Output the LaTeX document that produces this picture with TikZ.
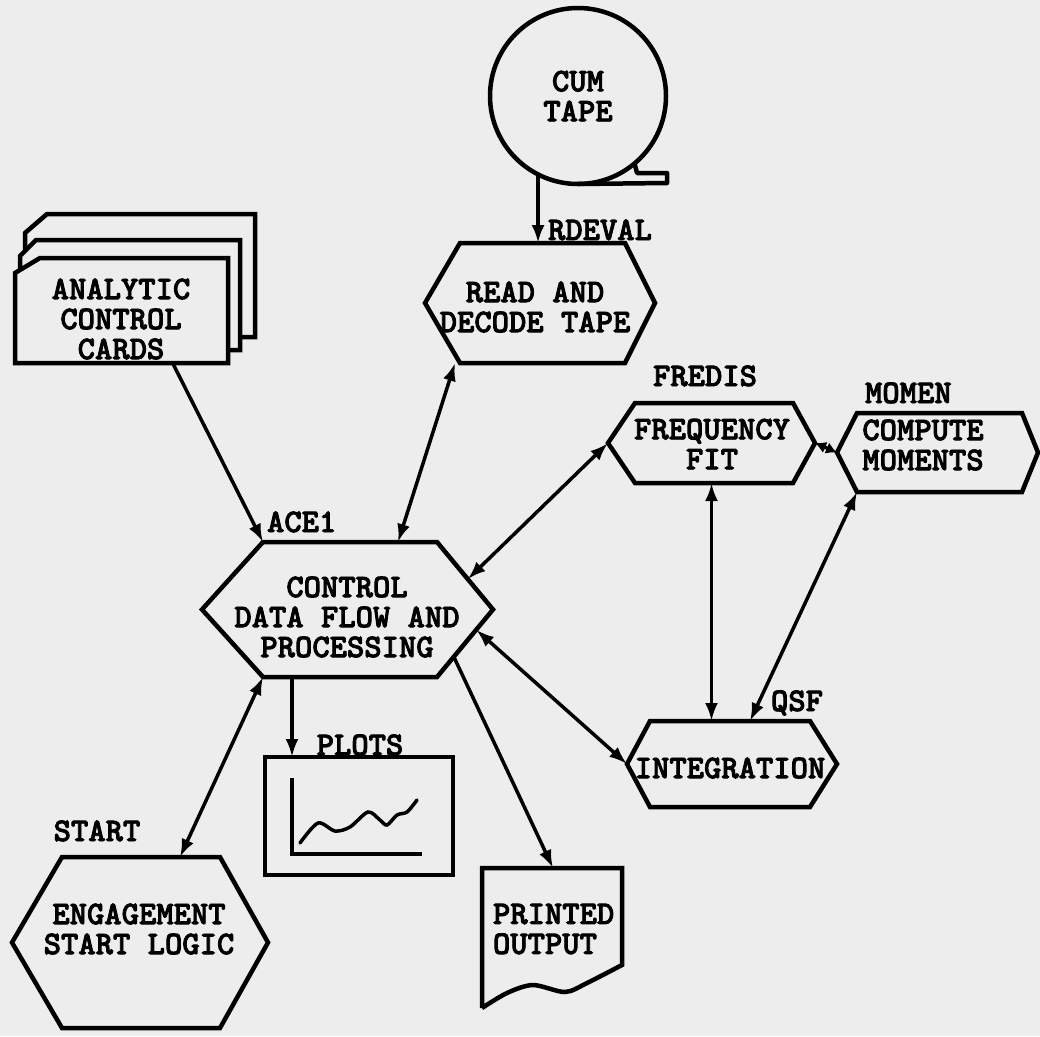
\documentclass[tikz,border=0pt]{standalone}
\usepackage{fontspec}
\newfontfamily\twfont[FakeBold=2.5]{lmmonolt10-bold.otf}
\usetikzlibrary{arrows.meta,calc}
\definecolor{paper}{gray}{0.93}
\tikzset{
  shp/.style={line width=4.5pt},
  hbox/.style={inner sep=0pt, outer sep=0pt},
  txt/.style={font=\twfont\fontsize{33}{30}\selectfont, inner sep=0pt, outer sep=0pt, align=center},
  lbl/.style={font=\twfont\fontsize{33}{30}\selectfont, inner sep=0pt, outer sep=0pt},
  arr/.style={line width=3.5pt, -{Latex[length=18pt,width=13pt]}},
  darr/.style={line width=3.5pt, {Latex[length=18pt,width=13pt]}-{Latex[length=18pt,width=13pt]}},
  sdarr/.style={line width=3.5pt, {Latex[length=11pt,width=12pt]}-{Latex[length=11pt,width=12pt]}}
}
\newcommand\hexdraw[3]{%
  \coordinate (#1-tl) at ($(#1.north west)+(#2,0)$);
  \coordinate (#1-tr) at ($(#1.north east)+(-#3,0)$);
  \coordinate (#1-bl) at ($(#1.south west)+(#2,0)$);
  \coordinate (#1-br) at ($(#1.south east)+(-#3,0)$);
  \draw[shp] (#1.west) -- (#1-tl) -- (#1-tr) -- (#1.east) -- (#1-br) -- (#1-bl) -- cycle;}
\begin{document}
\begin{tikzpicture}[x=1pt,y=-1pt]
\useasboundingbox (0,0) rectangle (1040,1036);
\fill[paper] (0,0) rectangle (1040,1036);

% CUM tape
\node[draw, circle, shp, txt, minimum size=176] (tape) at (578,96) {CUM\\TAPE};
\draw[shp, line join=round] (tape.-50) -- (637,173) -- (667,173) -- (667,183) -- (tape.south);
\coordinate (tp) at (tape.-117);

% cards
\draw[shp, fill=paper] (25,240) -- (25,233) -- (47,214) -- (255,214) -- (255,337) -- (25,337) -- cycle;
\draw[shp, fill=paper] (20,262) -- (20,256) -- (36,240) -- (240,240) -- (240,350) -- (20,350) -- cycle;
\node[hbox, minimum width=213, minimum height=105] (cards) at (121.5,310.5) {};
\draw[shp, fill=paper] (cards.south west) -- ($(cards.north west)+(0,15)$) -- ($(cards.north west)+(25,0)$) -- (cards.north east) -- (cards.south east) -- cycle;
\node[txt] (cardst) at (121,319) {ANALYTIC\\CONTROL\\CARDS};

% read and decode
\node[hbox, minimum width=230, minimum height=120] (rd) at (540,303) {};
\hexdraw{rd}{35}{30}
\node[txt] (rdt) at (535,307) {READ AND\\DECODE TAPE};
\node[lbl, anchor=base west] (rdl) at (548,240) {RDEVAL};

% control
\node[hbox, minimum width=291, minimum height=135] (ace) at (347.5,609.5) {};
\hexdraw{ace}{61}{56}
\node[txt] (acet) at (347,617) {CONTROL\\DATA FLOW AND\\PROCESSING};
\node[lbl, anchor=base west] (acel) at (267,532) {ACE1};

% frequency fit
\node[hbox, minimum width=207, minimum height=80] (fredis) at (711.5,443) {};
\hexdraw{fredis}{27}{22}
\node[txt] (fredist) at (712,444) {FREQUENCY\\FIT};
\node[lbl, anchor=base] (fredl) at (705,386) {FREDIS};

% compute moments
\node[hbox, minimum width=201, minimum height=79] (momen) at (937.5,452.5) {};
\hexdraw{momen}{20}{16}
\node[txt] (moment) at (923,445) {COMPUTE\\MOMENTS};
\node[lbl, anchor=base west] (momenl) at (865,403) {MOMEN};

% integration
\node[hbox, minimum width=210, minimum height=86] (integ) at (732,764) {};
\hexdraw{integ}{23}{27}
\node[txt] (integt) at (730,768) {INTEGRATION};
\node[lbl, anchor=base] (qsfl) at (797,711) {QSF};

% engagement start logic
\node[hbox, minimum width=256, minimum height=171] (start) at (140,942.5) {};
\hexdraw{start}{50}{48}
\node[txt] (startt) at (139,929) {ENGAGEMENT\\START LOGIC};
\node[lbl, anchor=base] (startl) at (97,841) {START};

% plots
\node[draw, shp, hbox, minimum width=188, minimum height=118] (plots) at (359,816) {};
\draw[shp] (292,778) -- (292,854) -- (422,854);
\draw[line width=3.5pt, line cap=round] plot[smooth] coordinates {(300,843) (318,823) (335,831) (350,827) (368,812) (380,820) (387,825) (397,815) (407,812) (417,800)};
\node[lbl, anchor=base] (plotsl) at (360,755) {PLOTS};

% printed output
\node[hbox, minimum width=140, minimum height=140] (printed) at (552,938) {};
\draw[shp] (printed.south west) -- (printed.north west) -- (printed.north east) -- plot[smooth] coordinates {(622,965) (587,983) (565,992) (533,985) (507,993) (482,1008)};
\node[txt, align=left, anchor=west] (printedt) at (493,929) {PRINTED\\OUTPUT};

% connectors
\draw[arr] (tp) -- (tp |- rd.north);
\draw[arr] ($(cards.south west)!0.74!(cards.south east)$) -- (ace-tl);
\draw[darr] ($(rd.south west)+(30,0)$) -- ($(ace.north west)+(196,0)$);
\draw[darr] ($(ace.east)!0.45!(ace-tr)$) -- (fredis.west);
\draw[sdarr] (fredis.east) -- (momen.west);
\draw[darr] (fredis.south) -- (fredis.south |- integ.north);
\draw[darr] (momen-bl) -- ($(integ.north west)+(123,0)$);
\draw[darr] ($(ace.east)!0.3!(ace-br)$) -- (integ.west);
\coordinate (acep) at ($(ace.south west)+(90,0)$);
\draw[arr] (acep) -- (acep |- plots.north);
\draw[arr] ($(ace.east)!0.7!(ace-br)$) -- ($(printed.north west)+(71,0)$);
\draw[darr] (ace-bl) -- ($(start.north west)+(168,0)$);
\end{tikzpicture}
\end{document}
